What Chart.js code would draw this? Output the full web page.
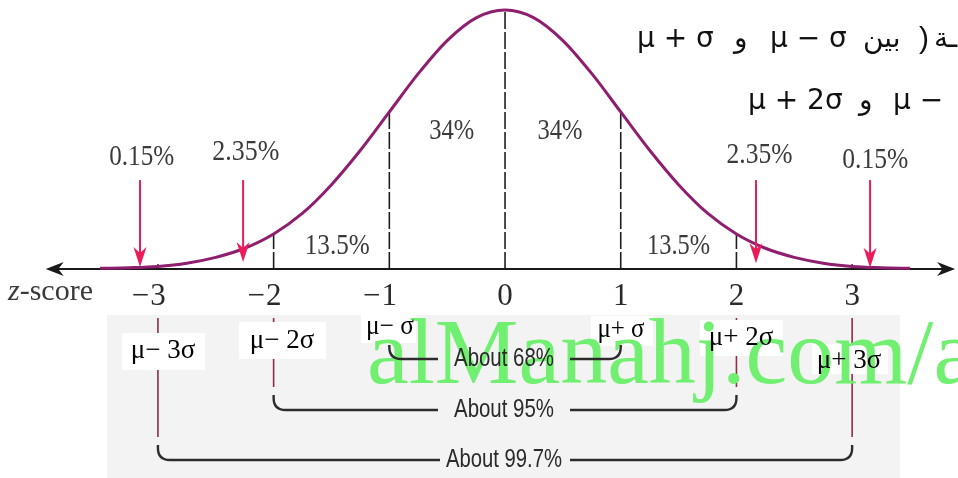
<!DOCTYPE html>
<html>
<head>
<meta charset="utf-8">
<script src="https://cdn.jsdelivr.net/npm/chart.js@4.4.1/dist/chart.umd.min.js"></script>
<style>
  html, body { margin: 0; padding: 0; background: #fff; }
  #wrap { width: 958px; height: 478px; }
</style>
</head>
<body>
<div id="wrap"><canvas id="chart" width="958" height="478"></canvas></div>
<script>
// bell curve, heights (axis = 0, peak ~0.399)
const zGrid = [-3.5, -3.25, -3, -2.75, -2.5, -2.25, -2, -1.75, -1.5, -1.25, -1, -0.75, -0.5, -0.25,
  0, 0.25, 0.5, 0.75, 1, 1.25, 1.5, 1.75, 2, 2.25, 2.5, 2.75, 3, 3.25, 3.5];
const curveHeight = [0.001, 0.002, 0.004, 0.009, 0.018, 0.032, 0.054, 0.086, 0.130, 0.183, 0.242, 0.301, 0.352, 0.387,
  0.399, 0.387, 0.352, 0.301, 0.242, 0.183, 0.130, 0.086, 0.054, 0.032, 0.018, 0.009, 0.004, 0.002, 0.001];

// z-score ticks
const tickZ = [-3, -2, -1, 0, 1, 2, 3];
const tickDigits = ["3", "2", "1", "0", "1", "2", "3"];

// area percentages
const areaLabels = ["0.15%", "2.35%", "13.5%", "34%", "34%", "13.5%", "2.35%", "0.15%"];
const areaLabelZ = [-3.14, -2.24, -1.45, -0.46, 0.475, 1.50, 2.20, 3.20];
const areaLabelY = [0.173, 0.180, 0.036, 0.213, 0.213, 0.036, 0.176, 0.168];

// red arrows pointing at the tails
const arrowZ = [-3.155, -2.264, 2.169, 3.155];
const arrowTipY = [0.003, 0.011, 0.009, 0.002];
const arrowTopY = 0.137;

// sigma labels under the axis
const sigmaLabels = ["μ− 3σ", "μ− 2σ", "μ− σ", "μ+ σ", "μ+ 2σ", "μ+ 3σ"];

// coverage brackets
const bracketLabels = ["About 68%", "About 95%", "About 99.7%"];
const bracketZ = [1, 2, 3];

// divider lines from axis up to the curve
function heightAt(z) {
  const i = zGrid.indexOf(z);
  return i >= 0 ? curveHeight[i] : 0;
}
const dividerSets = [-2, -1, 0, 1, 2].map(z => ({
  data: [{ x: z, y: 0 }, { x: z, y: heightAt(z) }],
  showLine: true,
  borderColor: "#1e1e1e",
  borderWidth: 1.6,
  borderDash: [17, 3],
  pointRadius: 0,
}));

const serif = '"Liberation Serif", "Times New Roman", serif';
const sans = '"Liberation Sans Narrow", "Liberation Sans", Arial, sans-serif';

function drawText(ctx, s, x, y, font, color, align, maxW) {
  ctx.font = font;
  ctx.fillStyle = color;
  ctx.textAlign = align || "center";
  ctx.textBaseline = "middle";
  if (maxW) ctx.fillText(s, x, y, maxW);
  else ctx.fillText(s, x, y);
}

function arrowHead(ctx, x, y, dir, len, half) {
  ctx.beginPath();
  ctx.moveTo(x, y);
  if (dir === "left") {
    ctx.lineTo(x + len, y - half);
    ctx.lineTo(x + len * 0.7, y);
    ctx.lineTo(x + len, y + half);
  } else if (dir === "right") {
    ctx.lineTo(x - len, y - half);
    ctx.lineTo(x - len * 0.7, y);
    ctx.lineTo(x - len, y + half);
  } else {
    ctx.lineTo(x - half, y - len);
    ctx.lineTo(x, y - len * 0.7);
    ctx.lineTo(x + half, y - len);
  }
  ctx.closePath();
  ctx.fill();
}

const backgroundPlugin = {
  id: "background",
  beforeDatasetsDraw(chart) {
    const { ctx, scales: { x, y } } = chart;
    const ax = y.getPixelForValue(0);
    ctx.save();
    // grey panel under the axis
    ctx.fillStyle = "#f3f3f3";
    ctx.fillRect(107, ax + 46, 793, 478 - ax - 46);

    // maroon guides from the sigma positions
    ctx.strokeStyle = "#8c2c48";
    ctx.lineWidth = 1.6;
    [-3, 3].forEach(z => {
      const px = x.getPixelForValue(z);
      ctx.beginPath(); ctx.moveTo(px, ax + 49); ctx.lineTo(px, ax + 168); ctx.stroke();
    });
    [-2, 2].forEach(z => {
      const px = x.getPixelForValue(z);
      ctx.beginPath(); ctx.moveTo(px, ax + 49); ctx.lineTo(px, ax + 118); ctx.stroke();
    });

    // white boxes behind the sigma labels
    ctx.fillStyle = "#ffffff";
    const boxes = [[122, 333, 83, 37], [239, 322, 87, 37], [361, 314, 55, 29],
      [591, 316, 62, 30], [700, 320, 83, 36], [812, 344, 76, 30]];
    boxes.forEach(b => ctx.fillRect(b[0], b[1], b[2], b[3]));

    // watermark
    ctx.font = "94px " + serif;
    ctx.fillStyle = "#70ef70";
    ctx.textAlign = "left";
    ctx.textBaseline = "alphabetic";
    ctx.fillText("alManahj.com/a", 367, 383);

    // z axis with arrows at both ends
    const x0 = x.getPixelForValue(-3.97);
    const x1 = x.getPixelForValue(3.89);
    ctx.strokeStyle = "#1a1a1a";
    ctx.fillStyle = "#1a1a1a";
    ctx.lineWidth = 2;
    ctx.beginPath(); ctx.moveTo(x0 + 8, ax); ctx.lineTo(x1 - 8, ax); ctx.stroke();
    arrowHead(ctx, x0, ax, "left", 18, 7);
    arrowHead(ctx, x1, ax, "right", 18, 7);
    // small ticks at +-3
    ctx.lineWidth = 1.4;
    [-3, 3].forEach(z => {
      const px = x.getPixelForValue(z);
      ctx.beginPath(); ctx.moveTo(px, ax - 5); ctx.lineTo(px, ax); ctx.stroke();
    });
    ctx.restore();
  },
  afterDatasetsDraw(chart) {
    const { ctx, scales: { x, y } } = chart;
    const ax = y.getPixelForValue(0);
    ctx.save();
    ctx.direction = "ltr";

    // red arrows
    ctx.strokeStyle = "#ec1c5a";
    ctx.fillStyle = "#ec1c5a";
    ctx.lineWidth = 2;
    arrowZ.forEach((z, i) => {
      const px = x.getPixelForValue(z);
      const top = y.getPixelForValue(arrowTopY);
      const tip = y.getPixelForValue(arrowTipY[i]);
      ctx.beginPath(); ctx.moveTo(px, top); ctx.lineTo(px, tip - 12); ctx.stroke();
      arrowHead(ctx, px, tip, "down", 20, 6.5);
    });

    // area percentages
    const widths = [65, 67, 65, 45, 45, 63, 66, 66];
    areaLabels.forEach((s, i) => {
      drawText(ctx, s, x.getPixelForValue(areaLabelZ[i]), y.getPixelForValue(areaLabelY[i]),
        "30px " + serif, "#3a3a3a", "center", widths[i]);
    });

    // tick labels: digit centred on the tick, minus sign hanging left
    ctx.font = "31px " + serif;
    tickZ.forEach((z, i) => {
      const px = x.getPixelForValue(z);
      const d = tickDigits[i];
      const w = ctx.measureText(d).width;
      drawText(ctx, d, px, ax + 28, "31px " + serif, "#2a2a2a", "center");
      if (z < 0) drawText(ctx, "−", px - w / 2 - 1, ax + 28, "31px " + serif, "#2a2a2a", "right");
    });
    // z-score caption
    ctx.font = "italic 30px " + serif;
    const zw = ctx.measureText("z").width;
    drawText(ctx, "z", 8, ax + 23, "italic 30px " + serif, "#3a3a3a", "left");
    drawText(ctx, "-score", 8 + zw, ax + 23, "30px " + serif, "#3a3a3a", "left", 75);

    // sigma labels
    const sigmaPos = [[163, 351, 67], [282, 341, 70], [390, 327, 48], [621, 330, 47], [741, 338, 68], [849, 361, 67]];
    sigmaLabels.forEach((s, i) => {
      const p = sigmaPos[i];
      drawText(ctx, s, p[0], p[1], "27px " + serif, "#000", "center", p[2]);
    });

    // brackets
    const rowY = [ax + 90, ax + 141, ax + 191];
    const startY = [ax + 76, ax + 126, ax + 176];
    const r = 12;
    ctx.strokeStyle = "#2c2c2c";
    ctx.lineWidth = 2.4;
    bracketZ.forEach((z, i) => {
      const lx = x.getPixelForValue(-z);
      const rx = x.getPixelForValue(z);
      const yy = rowY[i];
      ctx.beginPath();
      ctx.moveTo(lx, startY[i]);
      ctx.lineTo(lx, yy - r);
      ctx.quadraticCurveTo(lx, yy, lx + r, yy);
      ctx.lineTo(i === 2 ? 440 : 438, yy);
      ctx.stroke();
      ctx.beginPath();
      ctx.moveTo(570, yy);
      ctx.lineTo(rx - r, yy);
      ctx.quadraticCurveTo(rx, yy, rx, yy - r);
      ctx.lineTo(rx, startY[i]);
      ctx.stroke();
      drawText(ctx, bracketLabels[i], 504, yy, "26px " + sans, "#2a2a2a", "center", i === 2 ? 116 : 100);
    });

    // Arabic caption, top right (drawn piece by piece in visual order)
    const ar = '28px "DejaVu Sans", sans-serif';
    ctx.textBaseline = "alphabetic";
    ctx.fillStyle = "#111";
    ctx.font = ar;
    ctx.textAlign = "left";
    ctx.fillText("μ + σ", 637, 47, 83);
    ctx.fillText("و", 734, 47);
    ctx.fillText("μ − σ", 770, 47, 80);
    ctx.fillText("بين", 863, 47, 48);
    ctx.fillText("ـة", 934, 47);
    ctx.font = '30px "Liberation Sans", sans-serif';
    ctx.fillText(")", 919, 48);
    ctx.font = ar;
    ctx.fillText("μ + 2σ", 748, 109, 100);
    ctx.fillText("و", 859, 109);
    ctx.fillText("μ −", 893, 109, 58);
    ctx.restore();
  },
};

new Chart(document.getElementById("chart"), {
  type: "scatter",
  data: {
    datasets: [
      {
        data: zGrid.map((z, i) => ({ x: z, y: curveHeight[i] })),
        showLine: true,
        borderColor: "#8e1e6e",
        borderWidth: 3,
        pointRadius: 0,
        cubicInterpolationMode: "monotone",
      },
      ...dividerSets,
    ],
  },
  options: {
    responsive: false,
    animation: false,
    events: [],
    layout: { padding: 0 },
    plugins: { legend: { display: false }, tooltip: { enabled: false } },
    scales: {
      x: { type: "linear", min: -4.365, max: 3.915, display: false },
      y: { min: -0.322, max: 0.4145, display: false },
    },
  },
  plugins: [backgroundPlugin],
});
</script>
</body>
</html>
